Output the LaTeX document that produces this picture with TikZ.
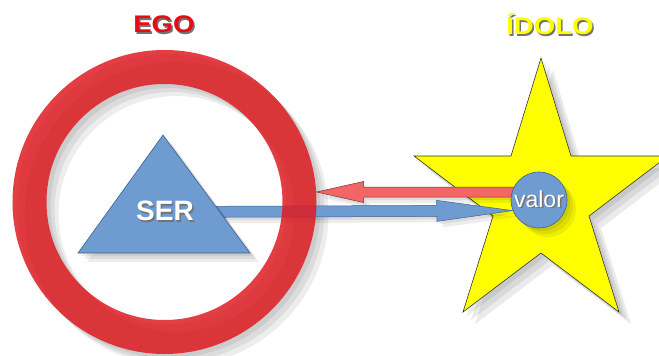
\documentclass[tikz,border=0pt]{standalone}
\usepackage{fontspec}
\setmainfont{Liberation Sans}
\newfontfamily\titlefont[FakeStretch=1.15]{Liberation Sans}
\usetikzlibrary{calc}
\definecolor{egored}{RGB}{221,28,34}
\definecolor{titlered}{RGB}{230,12,20}
\definecolor{arrowred}{RGB}{242,102,102}
\definecolor{serblue}{RGB}{110,155,208}
\definecolor{edgeblue}{RGB}{62,98,150}
\definecolor{staryellow}{RGB}{255,255,0}

\pgfdeclarelayer{back}
\pgfdeclarelayer{mid}
\pgfsetlayers{back,mid,main}

% text with a small dark shadow
\newcommand{\shadowed}[1]{\rlap{\kern1.5pt\raisebox{-1.5pt}{\color{black!55}#1}}#1}

% block arrow: [style]{tail}{tip}{shaft half width}{head half width}{head length}
\newcommand{\blockarrow}[6][]{%
  \coordinate (headbase) at ($(#3)!#6!(#2)$);
  \draw[#1] ($(#2)!#4!90:(#3)$) -- ($(headbase)!#4!90:(#3)$) -- ($(headbase)!#5!90:(#3)$)
    -- (#3) -- ($(headbase)!#5!-90:(#3)$) -- ($(headbase)!#4!-90:(#3)$) -- ($(#2)!#4!-90:(#3)$) -- cycle;}

\begin{document}
\begin{tikzpicture}[x=1pt, y=-1pt,
  softshadow/.style={fill=black, draw=none, opacity=.07, transform canvas={shift={(#1pt,-#1pt)}}},
  title/.style={font=\titlefont\fontsize{24}{24}\selectfont\bfseries},
  starpath/.style={insert path={(541,58) -- (571,156) -- (668,156) -- (589,216) -- (619,312)
    -- (541,253) -- (463,312) -- (493,216) -- (414,156) -- (511,156) -- cycle}}]
  \useasboundingbox (0,0) rectangle (659,356);

  % Ring and triangle
  \node[circle, draw=egored, draw opacity=.85, line width=34pt, minimum size=270pt] (ego) at (164.5,202) {};
  \foreach \d in {3,6,9}
    \fill[softshadow=\d] (163,135) -- (78,253) -- (250,253) -- cycle;
  \filldraw[fill=serblue, draw=edgeblue, line width=.6pt] (163,135) -- (78,253) -- (250,253) -- cycle;
  \node[font=\fontsize{28}{28}\selectfont\bfseries, text=white] (ser) at (165,212) {\shadowed{SER}};

  % Value circle
  \foreach \d in {3,6,9}
    \fill[softshadow=\d] (539,200) circle (28);
  \node[circle, minimum size=56pt, inner sep=0pt, fill=serblue, draw=edgeblue, line width=.6pt,
    text=white, font=\fontsize{23}{23}\selectfont] (valor) at (539,200) {\shadowed{valor}};

  % Titles
  \node[title, text=titlered] (egotitle) at (164,25) {\shadowed{EGO}};
  \node[title, text=staryellow] (idolotitle) at (550,25) {\shadowed{ÍDOLO}};

  % Star and ring shadow
  \begin{pgfonlayer}{back}
    \foreach \d in {4,8,12} {
      \fill[softshadow=\d, opacity=.08, starpath];
      \draw[black, opacity=.07, line width=34pt, transform canvas={shift={(\d pt,-\d pt)}}] (ego.center) circle (135);
    }
    \filldraw[fill=staryellow, draw=black!80, line width=.6pt, starpath];
  \end{pgfonlayer}

  % Arrows
  \begin{pgfonlayer}{mid}
    \coordinate (redtail) at ([yshift=8pt]valor.center);
    \coordinate (redtip) at (ego.east |- redtail);
    \foreach \d in {3,6} {
      \blockarrow[softshadow=\d]{redtail}{redtip}{5pt}{10.5pt}{47pt}
      \blockarrow[softshadow=\d]{ser.center}{valor.202}{5.5pt}{10.5pt}{76pt}
    }
    \blockarrow[fill=arrowred, draw=arrowred!50!black, line width=.5pt]{redtail}{redtip}{5pt}{10.5pt}{47pt}
    \blockarrow[fill=serblue, draw=edgeblue, line width=.5pt]{ser.center}{valor.202}{5.5pt}{10.5pt}{76pt}
  \end{pgfonlayer}
\end{tikzpicture}
\end{document}
